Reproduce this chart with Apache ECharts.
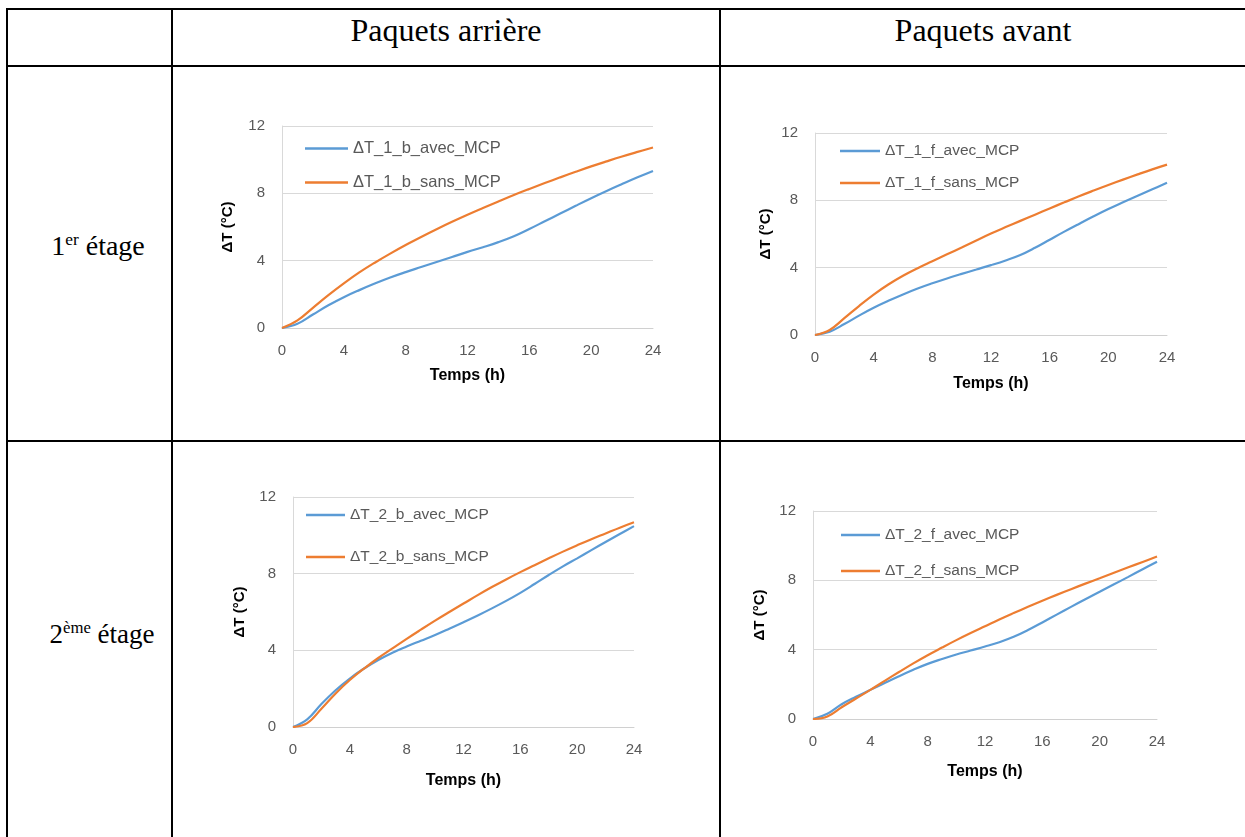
<!DOCTYPE html>
<html><head><meta charset="utf-8">
<script src="https://cdn.jsdelivr.net/npm/echarts@6/dist/echarts.min.js"></script>
<style>
html,body{margin:0;padding:0;width:1245px;height:837px;background:#fff;overflow:hidden;}
.ln{position:absolute;background:#000;}
.t{position:absolute;font-family:'Liberation Serif','Times New Roman',serif;color:#000;white-space:nowrap;line-height:1;transform:translate(-50%,-50%);}
.t sup{font-size:0.62em;vertical-align:0.55em;line-height:0;}
#chart{position:absolute;left:0;top:0;width:1245px;height:837px;}
</style></head><body>
<div class="ln" style="left:6px;top:8px;width:1239px;height:2px"></div>
<div class="ln" style="left:6px;top:65px;width:1239px;height:2px"></div>
<div class="ln" style="left:6px;top:440px;width:1239px;height:2px"></div>
<div class="ln" style="left:6px;top:8px;width:2px;height:829px"></div>
<div class="ln" style="left:171px;top:8px;width:2px;height:829px"></div>
<div class="ln" style="left:719px;top:8px;width:2px;height:829px"></div>
<div class="t" style="left:446px;top:30px;font-size:32px">Paquets arrière</div>
<div class="t" style="left:983px;top:30px;font-size:32px">Paquets avant</div>
<div class="t" style="left:98px;top:246px;font-size:28px">1<sup>er</sup> étage</div>
<div class="t" style="left:102px;top:634px;font-size:27px">2<sup>ème</sup> étage</div>
<div id="chart"></div>
<script>
// Time axis (hours)
const hours = [0,1,2,3,4,5,6,7,8,9,10,11,12,13,14,15,16,17,18,19,20,21,22,23,24];
const xTicks = [0,4,8,12,16,20,24];
const yTicks = [0,4,8,12];

// 1er étage – Paquets arrière
const dT_1_b_avec = [0,0.25,0.8,1.35,1.83,2.25,2.64,3.0,3.32,3.62,3.92,4.22,4.52,4.8,5.1,5.45,5.88,6.34,6.8,7.26,7.71,8.14,8.55,8.95,9.33];
const dT_1_b_sans = [0,0.45,1.2,1.95,2.65,3.3,3.88,4.42,4.93,5.41,5.87,6.31,6.73,7.13,7.52,7.9,8.26,8.61,8.95,9.28,9.6,9.9,10.19,10.46,10.72];
// 1er étage – Paquets avant
const dT_1_f_avec = [0,0.2,0.65,1.15,1.62,2.03,2.41,2.76,3.07,3.36,3.63,3.89,4.15,4.43,4.75,5.18,5.66,6.14,6.6,7.05,7.48,7.88,8.27,8.66,9.04];
const dT_1_f_sans = [0,0.3,1.0,1.72,2.4,3.0,3.52,3.97,4.38,4.79,5.2,5.62,6.03,6.41,6.78,7.15,7.52,7.88,8.24,8.58,8.91,9.23,9.54,9.84,10.12];
// 2ème étage – Paquets arrière
const dT_2_b_avec = [0,0.4,1.2,1.92,2.53,3.05,3.5,3.88,4.2,4.5,4.8,5.13,5.47,5.82,6.19,6.58,7.0,7.46,7.93,8.38,8.8,9.23,9.65,10.07,10.48];
const dT_2_b_sans = [0,0.2,0.95,1.75,2.45,3.05,3.6,4.1,4.6,5.08,5.55,6.0,6.44,6.88,7.3,7.7,8.08,8.44,8.8,9.15,9.48,9.8,10.1,10.4,10.68];
// 2ème étage – Paquets avant
const dT_2_f_avec = [0,0.3,0.85,1.28,1.68,2.08,2.47,2.84,3.18,3.46,3.72,3.95,4.18,4.43,4.74,5.13,5.57,6.02,6.47,6.91,7.34,7.77,8.2,8.64,9.07];
const dT_2_f_sans = [0,0.15,0.68,1.18,1.68,2.2,2.71,3.21,3.68,4.12,4.55,4.96,5.35,5.74,6.11,6.47,6.82,7.16,7.49,7.81,8.12,8.44,8.75,9.06,9.37];

const panels = [
  {names:['ΔT_1_b_avec_MCP','ΔT_1_b_sans_MCP'], data:[dT_1_b_avec,dT_1_b_sans],
   grid:{left:282,top:126,width:371,height:202}, xGap:40, yGap:47,
   legend:{left:305,top:140,itemWidth:43,itemGap:17,fs:16.5}},
  {names:['ΔT_1_f_avec_MCP','ΔT_1_f_sans_MCP'], data:[dT_1_f_avec,dT_1_f_sans],
   grid:{left:815,top:133,width:352,height:202}, xGap:41, yGap:42,
   legend:{left:840,top:143,itemWidth:40,itemGap:16,fs:15.5}},
  {names:['ΔT_2_b_avec_MCP','ΔT_2_b_sans_MCP'], data:[dT_2_b_avec,dT_2_b_sans],
   grid:{left:293,top:497,width:341,height:230}, xGap:46, yGap:46,
   legend:{left:306,top:507,itemWidth:39,itemGap:26,fs:15.5}},
  {names:['ΔT_2_f_avec_MCP','ΔT_2_f_sans_MCP'], data:[dT_2_f_avec,dT_2_f_sans],
   grid:{left:813,top:511,width:344,height:208}, xGap:45, yGap:46,
   legend:{left:841,top:527,itemWidth:39,itemGap:20,fs:15.5}}
];
const colors = ['#5B9BD5','#ED7D31'];
const font = 'Liberation Sans';
const option = {animation:false, grid:[], xAxis:[], yAxis:[], legend:[], series:[]};
panels.forEach((p,i)=>{
  option.grid.push(Object.assign({containLabel:false}, p.grid));
  option.xAxis.push({type:'value', gridIndex:i, min:xTicks[0], max:xTicks[xTicks.length-1], interval:4,
    name:'Temps (h)', nameLocation:'middle', nameGap:p.xGap,
    nameTextStyle:{fontFamily:font,fontWeight:'bold',fontSize:16,color:'#000'},
    axisLine:{show:true,lineStyle:{color:'#D0D0D0',width:1}}, axisTick:{show:false},
    axisLabel:{fontFamily:font,fontSize:15,color:'#595959',margin:15},
    splitLine:{show:false}});
  option.yAxis.push({type:'value', gridIndex:i, min:yTicks[0], max:yTicks[yTicks.length-1], interval:4,
    name:'ΔT (°C)', nameLocation:'middle', nameGap:p.yGap, nameRotate:90,
    nameTextStyle:{fontFamily:font,fontWeight:'bold',fontSize:15,color:'#000'},
    axisLine:{show:true,lineStyle:{color:'#D9D9D9',width:1}}, axisTick:{show:false},
    axisLabel:{fontFamily:font,fontSize:15,color:'#595959',margin:17},
    splitLine:{show:true,lineStyle:{color:'#D9D9D9',width:1}}});
  option.legend.push({data:p.names, orient:'vertical', left:p.legend.left, top:p.legend.top,
    padding:0, icon:'rect', itemWidth:p.legend.itemWidth, itemHeight:2.5, itemGap:p.legend.itemGap,
    textStyle:{fontFamily:font,fontSize:p.legend.fs,color:'#595959'}});
  p.names.forEach((n,k)=>{
    option.series.push({name:n, type:'line', xAxisIndex:i, yAxisIndex:i, smooth:0.4,
      symbol:'none', showSymbol:false, data:hours.map((h,j)=>[h,p.data[k][j]]),
      lineStyle:{color:colors[k],width:2.2}, itemStyle:{color:colors[k]}});
  });
});
const chart = echarts.init(document.getElementById('chart'), null, {renderer:'canvas'});
chart.setOption(option);
</script>
</body></html>
